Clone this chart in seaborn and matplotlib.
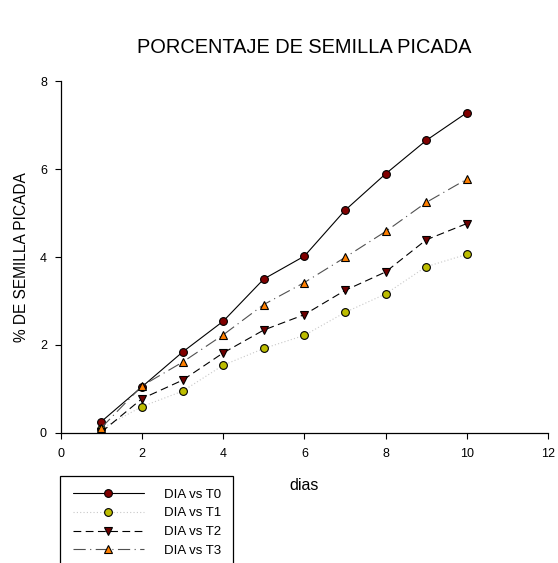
import matplotlib
matplotlib.use("Agg")
import matplotlib.pyplot as plt
import seaborn as sns

# --- DATA ---
dias = [1, 2, 3, 4, 5, 6, 7, 8, 9, 10]
t0 = [0.26, 1.05, 1.84, 2.54, 3.50, 4.02, 5.06, 5.89, 6.65, 7.28]
t1 = [0.10, 0.60, 0.95, 1.54, 1.92, 2.22, 2.74, 3.16, 3.78, 4.06]
t2 = [0.02, 0.78, 1.20, 1.82, 2.34, 2.69, 3.24, 3.66, 4.39, 4.76]
t3 = [0.12, 1.07, 1.61, 2.23, 2.92, 3.42, 3.99, 4.58, 5.24, 5.77]
series_labels = ["DIA vs T0", "DIA vs T1", "DIA vs T2", "DIA vs T3"]

sns.set_theme(style="ticks")
plt.rcParams["font.family"] = ["Liberation Sans", "DejaVu Sans"]
plt.rcParams["text.color"] = "black"

fig = plt.figure(figsize=(5.58, 5.63), dpi=100)
ax = fig.add_axes([0.109, 0.231, 0.873, 0.625])

# line style / marker per series
styles = [
    dict(color="black", linestyle="-", marker="o", markerfacecolor="#800000"),
    dict(color="#c8c8c8", linestyle=(0, (1, 2)), marker="o", markerfacecolor="#bdbd00"),
    dict(color="black", linestyle=(0, (7, 4)), marker="v", markerfacecolor="#6e0000"),
    dict(color="#505050", linestyle=(0, (11, 4, 1, 4)), marker="^", markerfacecolor="#ff8000"),
]

for vals, lab, st in zip([t0, t1, t2, t3], series_labels, styles):
    sns.lineplot(x=dias, y=vals, ax=ax, label=lab, legend=False,
                 linewidth=0.8, markersize=5.6, markeredgecolor="black",
                 markeredgewidth=0.8, **st)

ax.set_xlim(0, 12)
ax.set_ylim(0, 8)
ax.set_xticks(range(0, 13, 2))
ax.set_yticks(range(0, 9, 2))
sns.despine(ax=ax)
for sp in ["left", "bottom"]:
    ax.spines[sp].set_color("black")
    ax.spines[sp].set_linewidth(0.9)
ax.tick_params(axis="both", length=4, width=0.8, color="black",
               labelsize=9, labelcolor="black")
ax.tick_params(axis="x", pad=7)
ax.tick_params(axis="y", pad=6)

ax.set_xlabel("dias", fontsize=11.5, labelpad=13, color="black")
ax.set_ylabel("% DE SEMILLA PICADA", fontsize=11.2, labelpad=8, color="black")
fig.text(0.546, 0.916, "PORCENTAJE DE SEMILLA PICADA", ha="center",
         va="center", fontsize=14.4, color="black")

handles = ax.get_lines()
leg = ax.legend(handles, series_labels, loc="upper left",
                bbox_to_anchor=(0.1075, 0.155), bbox_transform=fig.transFigure,
                borderaxespad=0, fontsize=9.5, handlelength=5.45,
                handletextpad=1.45, labelspacing=0.5, borderpad=0.95,
                fancybox=False, framealpha=1, edgecolor="black")
leg.get_frame().set_linewidth(0.9)

plt.savefig("out.png", dpi=100)
plt.close()
